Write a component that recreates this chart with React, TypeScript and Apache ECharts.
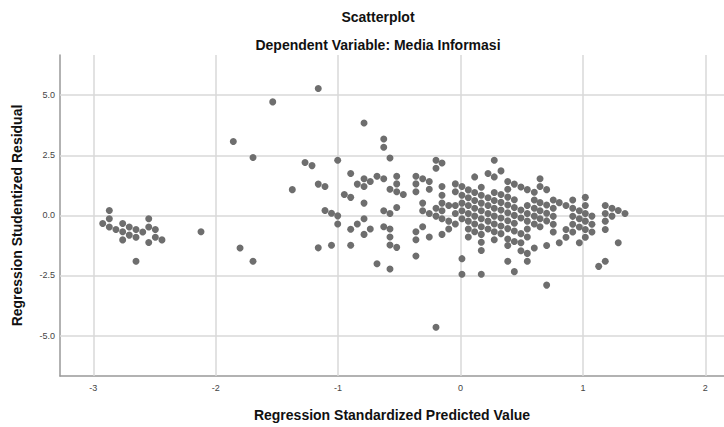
import React, { useEffect, useRef } from "react";
import * as echarts from "echarts";

const titleText = "Scatterplot";
const subtitleText = "Dependent Variable: Media Informasi";
const xAxisName = "Regression Standardized Predicted Value";
const yAxisName = "Regression Studentized Residual";

const xTicks = [-3, -2, -1, 0, 1, 2];
const yTicks = [-5, -2.5, 0, 2.5, 5];

// [standardized predicted value, studentized residual]
const leftCluster: number[][] = [
  [-2.869, 0.2], [-2.869, -0.14], [-2.923, -0.34], [-2.869, -0.48], [-2.815, -0.59],
  [-2.76, -0.34], [-2.76, -0.68], [-2.76, -1.02], [-2.706, -0.48], [-2.706, -0.82],
  [-2.651, -0.59], [-2.651, -0.91], [-2.651, -1.91], [-2.596, -0.69], [-2.547, -0.14],
  [-2.547, -0.48], [-2.547, -1.13], [-2.493, -0.59], [-2.493, -0.91], [-2.439, -1.02],
  [-2.12, -0.68], [-1.801, -1.36], [-1.695, -1.91],
];

const midScatter: number[][] = [
  [-1.162, 5.28], [-1.534, 4.72], [-1.856, 3.07], [-1.695, 2.41], [-1.27, 2.2],
  [-1.213, 2.07], [-1.003, 2.29], [-1.374, 1.07], [-1.162, 1.3], [-1.107, 1.2],
  [-0.897, 1.74], [-0.843, 1.3], [-0.949, 0.87], [-0.897, 0.75], [-1.107, 0.2],
  [-1.054, 0.09], [-1.003, -0.02], [-1.003, -0.36], [-0.897, -0.58], [-0.843, -0.36],
  [-1.162, -1.35], [-1.054, -1.24], [-0.897, -1.24],
  [-0.788, 3.84], [-0.627, 3.18], [-0.627, 2.83], [-0.576, 2.39], [-0.2, 2.29],
  [-0.151, 2.18], [-0.2, 1.96], [0.276, 2.29],
  [-0.788, 1.52], [-0.737, 1.41], [-0.682, 1.63], [-0.627, 1.52], [-0.521, 1.63],
  [-0.788, 1.2], [-0.521, 1.31], [-0.576, 1.09], [-0.521, 0.98], [-0.467, 0.87],
  [-0.364, 1.63], [-0.309, 1.52], [-0.255, 1.41], [-0.364, 1.31], [-0.255, 1.09],
  [-0.364, 0.98],
  [-0.788, 0.51], [-0.788, -0.14], [-0.737, -0.57], [-0.788, -0.79], [-0.627, -0.47],
  [-0.627, 0.19], [-0.576, 0.08], [-0.521, 0.33], [-0.576, -0.57], [-0.576, -0.9],
  [-0.576, -1.23], [-0.521, -1.33],
  [-0.309, 0.51], [-0.309, 0.19], [-0.255, 0.08], [-0.2, 0.3], [-0.2, -0.03],
  [-0.309, -0.47], [-0.364, -0.68], [-0.364, -1.01], [-0.255, -0.9], [-0.364, -1.69],
  [-0.682, -2.01], [-0.576, -2.23], [-0.2, -4.65],
];

const centralCluster: number[][] = [
  [-0.151, 1.2], [-0.151, 0.84], [-0.151, 0.51], [-0.151, 0.19], [-0.151, -0.14], [-0.151, -0.79],
  [-0.096, 0.41], [-0.096, -0.24], [-0.096, -0.57],
  [-0.042, 1.31], [-0.042, 0.98], [-0.042, 0.41], [-0.042, 0.08], [-0.042, -0.36],
  [0.012, 1.2], [0.012, 0.84], [0.012, 0.51], [0.012, 0.19], [0.012, -0.14], [0.012, -1.8], [0.012, -2.45],
  [0.064, 1.06], [0.064, 0.73], [0.064, 0.41], [0.064, 0.08], [0.064, -0.24], [0.064, -0.57], [0.064, -0.9],
  [0.116, 1.6], [0.116, 0.95], [0.116, 0.62], [0.116, 0.3], [0.116, -0.03], [0.116, -0.36], [0.116, -0.68],
  [0.17, 1.17], [0.17, 0.84], [0.17, 0.51], [0.17, 0.19], [0.17, -0.14], [0.17, -0.47], [0.17, -0.79],
  [0.17, -1.12], [0.17, -1.46], [0.17, -2.45],
  [0.225, 1.74], [0.225, 0.73], [0.225, 0.41], [0.225, 0.08], [0.225, -0.24], [0.225, -0.57],
  [0.276, 1.6], [0.276, 0.95], [0.276, 0.62], [0.276, 0.3], [0.276, -0.03], [0.276, -0.36],
  [0.276, -0.68], [0.276, -1.01],
];

const rightCluster: number[][] = [
  [0.331, 1.85], [0.386, 1.41], [0.44, 1.3], [0.494, 1.18], [0.386, 1.09], [0.331, 0.87],
  [0.386, 0.76], [0.44, 0.65], [0.331, 0.54], [0.386, 0.43], [0.331, 0.22], [0.386, 0.11],
  [0.44, 0.33], [0.494, 0.22], [0.44, 0.0], [0.331, -0.11], [0.386, -0.22], [0.44, -0.33],
  [0.494, -0.11], [0.331, -0.44], [0.386, -0.55], [0.331, -0.76], [0.44, -0.65], [0.494, -0.76],
  [0.386, -0.98], [0.44, -1.09], [0.494, -1.14], [0.386, -1.25], [0.386, -1.91], [0.44, -2.34],
  [0.546, 1.07], [0.603, 0.96], [0.65, 1.52], [0.65, 1.2], [0.704, 1.07], [0.546, 0.41],
  [0.603, 0.64], [0.546, 0.08], [0.603, 0.3], [0.65, 0.53], [0.65, 0.19], [0.704, 0.43],
  [0.603, -0.03], [0.65, -0.14], [0.704, 0.09], [0.704, -0.23], [0.546, -0.24], [0.546, -0.57],
  [0.603, -0.36], [0.65, -0.47], [0.546, -0.9], [0.494, -1.47], [0.546, -1.58], [0.546, -1.91],
  [0.603, -1.36], [0.704, -1.25], [0.704, -2.9],
  [0.758, 0.64], [0.758, 0.3], [0.758, -0.04], [0.758, -0.37], [0.758, -0.69], [0.807, 0.53],
  [0.807, -1.14], [0.862, 0.41], [0.862, -0.59], [0.862, -0.91], [0.917, 0.64], [0.917, 0.3],
  [0.917, -0.04], [0.917, -0.37], [0.917, -0.69], [0.971, 0.19], [0.971, -0.14], [0.971, -0.48],
  [0.971, -1.14], [1.02, 0.75], [1.02, 0.41], [1.02, 0.08], [1.02, -0.24], [1.02, -0.59],
  [1.02, -0.91], [1.074, -0.03], [1.074, -0.37], [1.074, -0.69], [1.183, 0.41], [1.183, 0.08],
  [1.183, -0.24], [1.183, -0.59], [1.238, 0.3], [1.238, -0.03], [1.289, 0.2], [1.344, 0.08],
  [1.289, -1.14], [1.183, -1.91], [1.129, -2.12],
];

const FONT = "'Liberation Sans', Arial, Helvetica, sans-serif";

export default function App() {
  const ref = useRef<HTMLDivElement>(null);
  useEffect(() => {
    if (!ref.current) return;
    const chart = echarts.init(ref.current, undefined, { renderer: "svg" });
    const points = [...leftCluster, ...midScatter, ...centralCluster, ...rightCluster];
    const gridColor = "#d9d9d9";
    chart.setOption({
      animation: false,
      backgroundColor: "#ffffff",
      textStyle: { fontFamily: FONT },
      title: [
        {
          text: titleText,
          left: 373,
          top: 5,
          textAlign: "center",
          textStyle: { fontSize: 14, fontWeight: "bold", color: "#111", fontFamily: FONT },
        },
        {
          text: subtitleText,
          left: 373,
          top: 33,
          textAlign: "center",
          textStyle: { fontSize: 14, fontWeight: "bold", color: "#111", fontFamily: FONT },
        },
      ],
      grid: { left: 60, right: 0, top: 55, bottom: 45, containLabel: false },
      xAxis: {
        type: "value",
        min: -3.272,
        max: 2.153,
        name: xAxisName,
        nameLocation: "middle",
        nameGap: 32,
        nameTextStyle: { fontSize: 14, fontWeight: "bold", color: "#111", fontFamily: FONT },
        axisLine: { show: true, onZero: false, lineStyle: { color: "#999999", width: 1.5 } },
        axisTick: { show: false },
        axisLabel: {
          customValues: xTicks,
          fontSize: 9,
          color: "#444",
          margin: 7,
          formatter: (v: number) => String(v),
        },
        splitLine: { show: false },
      },
      yAxis: {
        type: "value",
        min: -6.68,
        max: 6.67,
        name: yAxisName,
        nameLocation: "middle",
        nameGap: 36,
        nameTextStyle: { fontSize: 14, fontWeight: "bold", color: "#111", fontFamily: FONT },
        axisLine: { show: true, onZero: false, lineStyle: { color: "#999999", width: 1.5 } },
        axisTick: { show: false },
        axisLabel: {
          customValues: yTicks,
          fontSize: 9,
          color: "#444",
          margin: 5,
          formatter: (v: number) => v.toFixed(1),
        },
        splitLine: { show: false },
      },
      series: [
        {
          type: "scatter",
          z: 3,
          symbol: "circle",
          symbolSize: 7,
          itemStyle: { color: "#6e6e6e", opacity: 1 },
          data: points,
          silent: true,
          markLine: {
            silent: true,
            z: 1,
            symbol: ["none", "none"],
            label: { show: false },
            lineStyle: { color: gridColor, width: 1.5, type: "solid" },
            data: [
              ...yTicks.map((v) => ({ yAxis: v })),
              ...xTicks.map((v) => ({ xAxis: v })),
            ],
          },
        },
      ],
    });
    return () => chart.dispose();
  }, []);
  return (
    <div
      ref={ref}
      style={{ position: "absolute", left: 0, top: 0, width: 724, height: 427 }}
    />
  );
}
